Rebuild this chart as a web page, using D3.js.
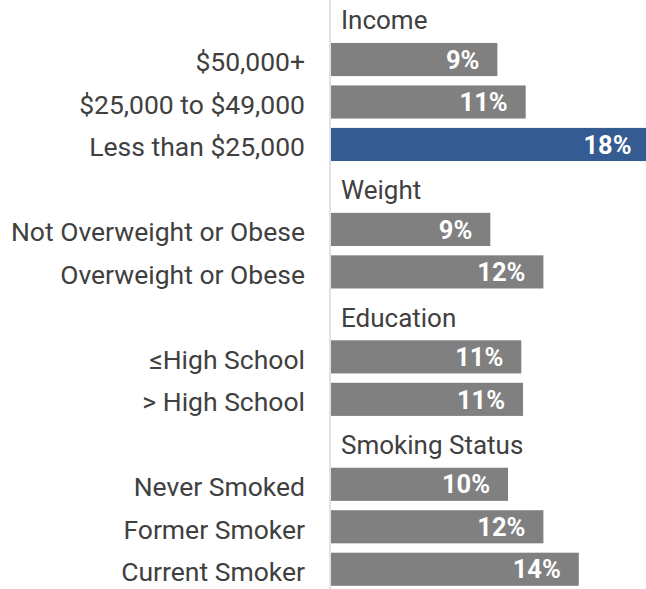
<!DOCTYPE html>
<html>
    <head>
        <script src="https://d3js.org/d3.v7.min.js"></script>
    </head>
    <style>
        body {
            margin: 0;
            background: #fff;
        }
        text {
            font-family: Roboto, "Noto Sans", sans-serif;
        }
    </style>
    <body>
        <div id="chart"></div>

        <script>

            // Groups and their categories, values in percent
            const groups = ["Income", "Weight", "Education", "Smoking Status"];

            const incomeLabels = ["$50,000+", "$25,000 to $49,000", "Less than $25,000"];
            const incomeValues = [9.4, 11.0, 18.0];

            const weightLabels = ["Not Overweight or Obese", "Overweight or Obese"];
            const weightValues = [9.0, 12.0];

            const educationLabels = ["≤High School", "> High School"];
            const educationValues = [10.75, 10.85];

            const smokingLabels = ["Never Smoked", "Former Smoker", "Current Smoker"];
            const smokingValues = [10.0, 12.0, 14.0];

            const valueLabels = ["9%", "11%", "18%", "9%", "12%", "11%", "11%", "10%", "12%", "14%"];
            const highlighted = ["Less than $25,000"];

            const width = 646, height = 589;
            const axisX = 330;

            // one row for each group header, then its categories
            const rows = [];
            const parts = [
                [incomeLabels, incomeValues],
                [weightLabels, weightValues],
                [educationLabels, educationValues],
                [smokingLabels, smokingValues]
            ];
            let n = 0;
            groups.forEach((g, gi) => {
                rows.push({ id: "h" + gi, header: g });
                parts[gi][0].forEach((label, i) => {
                    rows.push({ id: "c" + n, label: label, value: parts[gi][1][i], text: valueLabels[n] });
                    n++;
                });
            });
            const bars = rows.filter(r => !r.header);
            const headers = rows.filter(r => r.header);

            const svg = d3.select("#chart")
                .append("svg")
                .attr("width", width)
                .attr("height", height);

            const y = d3.scaleBand()
                .domain(rows.map(r => r.id))
                .range([-4.2, 590.5])
                .paddingInner(0.22)
                .paddingOuter(0.11);

            const x = d3.scaleLinear()
                .domain([0, 20])
                .range([axisX + 1, axisX + 1 + 354]);

            // bars
            svg.selectAll("rect.bar")
                .data(bars)
                .enter()
                .append("rect")
                .attr("class", "bar")
                .attr("x", x(0))
                .attr("y", d => y(d.id))
                .attr("width", d => x(d.value) - x(0))
                .attr("height", y.bandwidth())
                .attr("fill", d => highlighted.includes(d.label) ? "#345c92" : "#808080");

            // value labels inside the bar end
            svg.selectAll("text.val")
                .data(bars)
                .enter()
                .append("text")
                .attr("class", "val")
                .attr("x", d => x(d.value) - 18)
                .attr("y", d => y(d.id) + y.bandwidth() / 2)
                .attr("dy", "0.36em")
                .attr("text-anchor", "end")
                .attr("fill", "#fff")
                .attr("font-weight", "bold")
                .attr("font-size", 25.5)
                .text(d => d.text);

            // category labels
            svg.selectAll("text.cat")
                .data(bars)
                .enter()
                .append("text")
                .attr("class", "cat")
                .attr("x", axisX - 25)
                .attr("y", d => y(d.id) + y.bandwidth() / 2)
                .attr("dy", "0.45em")
                .attr("text-anchor", "end")
                .attr("fill", "#404040")
                .attr("font-size", 26.5)
                .text(d => d.label);

            // group headers
            svg.selectAll("text.head")
                .data(headers)
                .enter()
                .append("text")
                .attr("class", "head")
                .attr("x", axisX + 11)
                .attr("y", d => y(d.id) + y.bandwidth() / 2)
                .attr("dy", "0.47em")
                .attr("fill", "#404040")
                .attr("font-size", 26)
                .text(d => d.header);

            // vertical axis line
            svg.append("line")
                .attr("x1", axisX).attr("x2", axisX)
                .attr("y1", 0).attr("y2", height)
                .attr("stroke", "#d9d9d9")
                .attr("stroke-width", 1.5);

        </script>

    </body>
</html>
